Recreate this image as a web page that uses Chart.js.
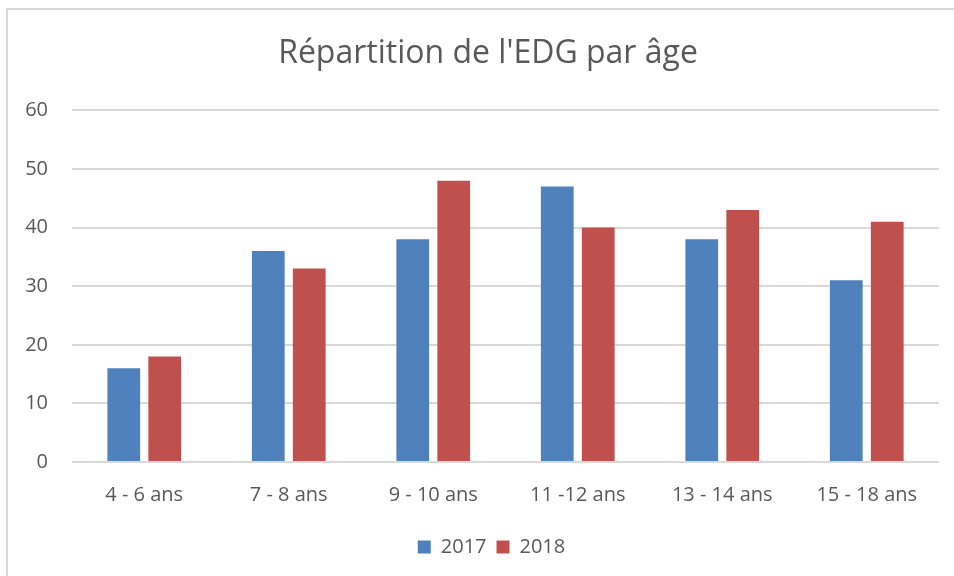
<!DOCTYPE html>
<html lang="fr">
<head>
<meta charset="utf-8">
<title>Répartition de l'EDG par âge</title>
<script src="https://cdn.jsdelivr.net/npm/chart.js@4/dist/chart.umd.min.js"></script>
<style>
  html, body { margin: 0; padding: 0; background: #ffffff; overflow: hidden; }
  #frame {
    position: absolute; left: 6px; top: 8px; width: 1000px; height: 620px;
    border: 2px solid #d9d9d9; box-sizing: border-box;
  }
  #wrap { position: absolute; left: 0; top: 0; width: 954px; height: 576px; }
</style>
</head>
<body>
<div id="frame"></div>
<div id="wrap"><canvas id="chart" width="954" height="576"></canvas></div>
<script>
// Age groups and headcounts per year
const categories = ['4 - 6 ans', '7 - 8 ans', '9 - 10 ans', '11 -12 ans', '13 - 14 ans', '15 - 18 ans'];
const values2017 = [16, 36, 38, 47, 38, 31];
const values2018 = [18, 33, 48, 40, 43, 41];
const yTicks = [0, 10, 20, 30, 40, 50, 60];

const textColor = '#595959';
const gridColor = '#d9d9d9';
const fontFamily = "'Open Sans', 'DejaVu Sans', sans-serif";

// Centre the title and legend on the framed panel rather than on the canvas
const centreOnFrame = {
  id: 'centreOnFrame',
  afterLayout(chart) {
    if (chart.titleBlock) { chart.titleBlock.left = 37; }
    if (chart.legend) {
      chart.legend.left = 44;
      if (typeof chart.legend.adjustHitBoxes === 'function') { chart.legend.adjustHitBoxes(); }
    }
  }
};

new Chart(document.getElementById('chart'), {
  type: 'bar',
  data: {
    labels: categories,
    datasets: [
      { label: '2017', data: values2017, backgroundColor: '#4f81bd', borderWidth: 0 },
      { label: '2018', data: values2018, backgroundColor: '#c0504d', borderWidth: 0 }
    ]
  },
  plugins: [centreOnFrame],
  options: {
    responsive: false,
    animation: false,
    layout: { padding: { left: 0, right: 15, top: 0, bottom: 9 } },
    datasets: { bar: { categoryPercentage: 0.567, barPercentage: 0.8 } },
    plugins: {
      title: {
        display: true,
        text: "Répartition de l'EDG par âge",
        color: textColor,
        font: { family: fontFamily, size: 32, weight: 'normal' },
        padding: { top: 35, bottom: 37 }
      },
      legend: {
        position: 'bottom',
        labels: {
          color: textColor,
          font: { family: fontFamily, size: 20 },
          boxWidth: 13,
          boxHeight: 13,
          padding: 10
        }
      },
      tooltip: { enabled: false }
    },
    scales: {
      x: {
        grid: { display: false, drawTicks: false },
        border: { display: false },
        ticks: { color: textColor, font: { family: fontFamily, size: 20 }, padding: 21, maxRotation: 0 },
        afterFit(scale) { scale.height = 65; }
      },
      y: {
        min: 0,
        max: 60,
        afterBuildTicks(scale) { scale.ticks = yTicks.map(v => ({ value: v })); },
        grid: { color: gridColor, lineWidth: 2, drawTicks: false },
        border: { display: false },
        ticks: { color: textColor, font: { family: fontFamily, size: 20 }, padding: 24 },
        afterFit(scale) { scale.width = 72; }
      }
    }
  }
});
</script>
</body>
</html>
